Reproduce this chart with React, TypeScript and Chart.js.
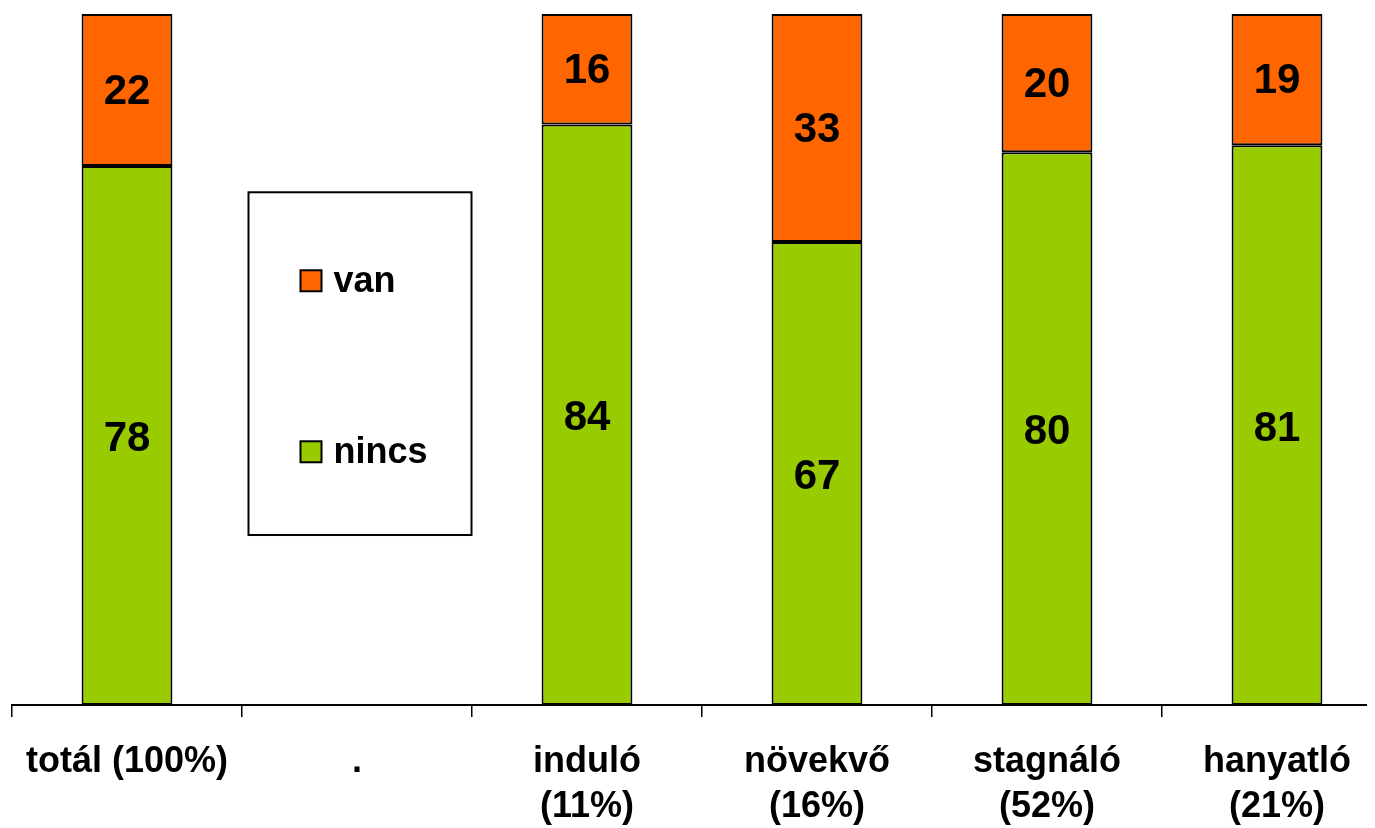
import React, { useEffect, useRef } from "react";
import { Chart, registerables } from "chart.js";

Chart.register(...registerables);

const categories: string[][] = [
  ["totál (100%)"],
  ["."],
  ["induló", "(11%)"],
  ["növekvő", "(16%)"],
  ["stagnáló", "(52%)"],
  ["hanyatló", "(21%)"],
];
const nincsValues: (number | null)[] = [78, null, 84, 67, 80, 81];
const vanValues: (number | null)[] = [22, null, 16, 33, 20, 19];
const seriesNames = ["nincs", "van"];
const seriesColors = ["#99CC00", "#FF6600"];

const FONT = '"Liberation Sans", Arial, sans-serif';

const valueLabelPlugin = {
  id: "valueLabels",
  afterDatasetsDraw(chart: any) {
    const ctx = chart.ctx;
    ctx.save();
    ctx.font = `bold 42px ${FONT}`;
    ctx.fillStyle = "#000";
    ctx.textAlign = "center";
    ctx.textBaseline = "middle";
    chart.data.datasets.forEach((ds: any, di: number) => {
      const meta = chart.getDatasetMeta(di);
      meta.data.forEach((bar: any, i: number) => {
        const v = ds.data[i];
        if (v == null) return;
        const p = bar.getProps(["x", "y", "base"], true);
        ctx.fillText(String(v), p.x, (p.y + p.base) / 2 + (di === 0 ? 4 : 2));
      });
    });
    ctx.restore();
  },
};

const legendBoxPlugin = {
  id: "legendBox",
  afterDraw(chart: any) {
    const ctx = chart.ctx;
    const xs = chart.scales.x;
    const ys = chart.scales.y;
    const cx = xs.getPixelForValue(1) + 3;
    const w = 223;
    const left = cx - w / 2;
    const top = ys.getPixelForValue(74.2);
    const bottom = ys.getPixelForValue(24.6);
    ctx.save();
    ctx.fillStyle = "#fff";
    ctx.fillRect(left, top, w, bottom - top);
    ctx.strokeStyle = "#000";
    ctx.lineWidth = 2;
    ctx.strokeRect(left, top, w, bottom - top);
    const items = [1, 0];
    const rowYs = [top + 88, top + 259];
    ctx.font = `bold 36px ${FONT}`;
    ctx.textAlign = "left";
    ctx.textBaseline = "middle";
    items.forEach((di, k) => {
      const ds = chart.data.datasets[di];
      const y = rowYs[k];
      ctx.fillStyle = ds.backgroundColor;
      ctx.fillRect(left + 52, y - 10, 21, 21);
      ctx.lineWidth = 2;
      ctx.strokeStyle = "#000";
      ctx.strokeRect(left + 52, y - 10, 21, 21);
      ctx.fillStyle = "#000";
      ctx.fillText(ds.label, left + 85, y + 2);
    });
    ctx.restore();
  },
};

export default function App() {
  const canvasRef = useRef<HTMLCanvasElement | null>(null);

  useEffect(() => {
    document.body.style.overflow = "hidden";
    const canvas = canvasRef.current;
    if (!canvas) return;
    const chart = new Chart(canvas, {
      type: "bar",
      data: {
        labels: categories,
        datasets: [
          {
            label: seriesNames[0],
            data: nincsValues,
            backgroundColor: seriesColors[0],
            borderColor: "#000",
            borderWidth: 2,
            borderSkipped: false,
            categoryPercentage: 1,
            barPercentage: 0.395,
          },
          {
            label: seriesNames[1],
            data: vanValues,
            backgroundColor: seriesColors[1],
            borderColor: "#000",
            borderWidth: 2,
            borderSkipped: false,
            categoryPercentage: 1,
            barPercentage: 0.395,
          },
        ],
      } as any,
      options: {
        responsive: false,
        animation: false,
        devicePixelRatio: 1,
        layout: { padding: { left: 4, top: 6, right: 0, bottom: 0 } },
        plugins: {
          legend: { display: false },
          tooltip: { enabled: false },
        },
        scales: {
          x: {
            stacked: true,
            offset: true,
            afterFit: (s: any) => {
              s.height = 123;
              s.paddingLeft = 0;
              s.paddingRight = 0;
            },
            grid: {
              display: true,
              offset: true,
              drawOnChartArea: false,
              drawTicks: true,
              tickLength: 12,
              color: "#000",
              lineWidth: 1.5,
            },
            border: { display: true, color: "#000", width: 2 },
            ticks: {
              color: "#000",
              padding: 23,
              maxRotation: 0,
              autoSkip: false,
              font: { family: FONT, size: 36, weight: "bold", lineHeight: 1.25 },
            },
          },
          y: {
            stacked: true,
            display: false,
            min: 0,
            max: 100,
          },
        },
      } as any,
      plugins: [valueLabelPlugin, legendBoxPlugin],
    });
    return () => chart.destroy();
  }, []);

  return (
    <div style={{ width: 1367, height: 820, overflow: "hidden" }}>
      <canvas ref={canvasRef} width={1384} height={820} style={{ display: "block" }} />
    </div>
  );
}
